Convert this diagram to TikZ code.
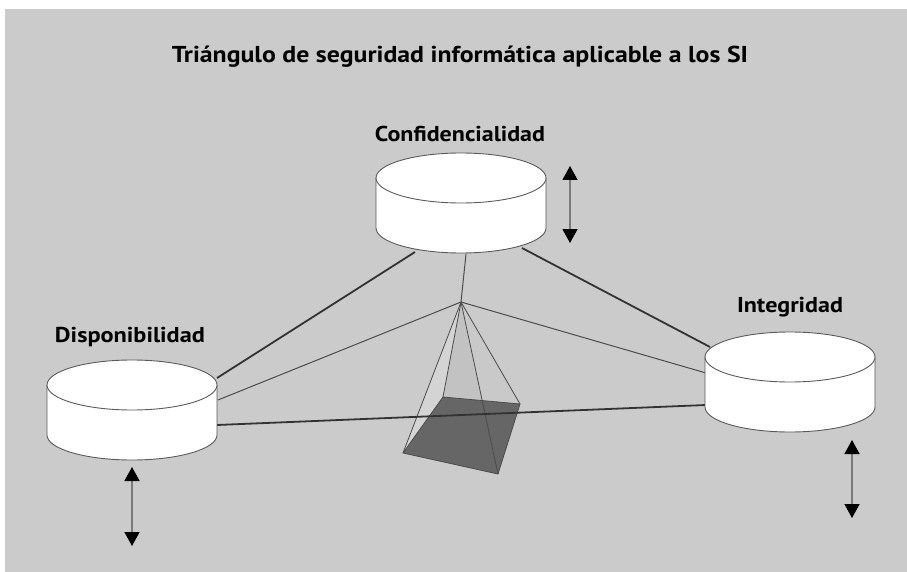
\documentclass[tikz,border=0pt]{standalone}
\usepackage{fontspec}
\usepackage{graphicx}
\setmainfont{PT Sans}
\usetikzlibrary{arrows.meta,calc}
\definecolor{panel}{HTML}{CBCBCB}
\definecolor{rim}{HTML}{5A5A5A}
\definecolor{shaft}{HTML}{7A7A7A}
\tikzset{
  drum/.style={draw=rim, line width=0.9, fill=white},
  bigside/.style={draw=black!80, line width=1.8},
  thinray/.style={draw=black!70, line width=1.0},
  pyredge/.style={draw=black!70, line width=0.8, line join=round},
  label/.style={font=\fontsize{21.5}{24}\selectfont\bfseries, inner sep=0},
  headline/.style={font=\fontsize{23}{26}\selectfont\bfseries, inner sep=0},
  updown/.style={draw=shaft, line width=1.3,
    {Triangle[width=15,length=14,color=black]}-{Triangle[width=15,length=14,color=black]}},
}
% text stretched to a given width, height kept
\newcommand\fitw[2]{\resizebox{#1pt}{\height}{#2}}
% drum: centre x, top-ellipse centre y, node name
\newcommand\drawdrum[3]{%
  \fill[white] (#1-85,#2) rectangle (#1+85,#2+50);
  \fill[white] (#1,#2+50) ellipse[x radius=85,y radius=25];
  \draw[draw=rim, line width=0.9] (#1-85,#2) -- (#1-85,#2+50)
     arc[start angle=180,end angle=0,x radius=85,y radius=25] -- (#1+85,#2);
  \draw[drum] (#1,#2) ellipse[x radius=85,y radius=25];
  \node[minimum width=170, minimum height=100, inner sep=0] (#3) at (#1,#2+25) {};
}
\begin{document}
\begin{tikzpicture}[x=1pt,y=-1pt]
\useasboundingbox (0,0) rectangle (907,572);
\fill[panel] (5,9) rectangle (907,572);

\node[headline] (title) at (460,57) {\fitw{576}{Triángulo de seguridad informática aplicable a los SI}};

% attachment points on the drums
\coordinate (cL) at (415,252);
\coordinate (cR) at (522,248);
\coordinate (cM) at (466,254);
\coordinate (dT) at (217,378);
\coordinate (dM) at (218,400);
\coordinate (dB) at (217,425);
\coordinate (iT) at (710,347);
\coordinate (iM) at (706,373);
\coordinate (iB) at (706,405);
\coordinate (apex) at (461,302);

% pyramid corners
\coordinate (bl) at (443,397);
\coordinate (br) at (520,404);
\coordinate (fr) at (498,474);
\coordinate (fl) at (403,453);

% rays from the apex
\draw[thinray] (apex) -- (cM);
\draw[thinray] (apex) -- (dM);
\draw[thinray] (apex) -- (iM);

% pyramid
\fill[black!17] (apex) -- (fl) -- (bl) -- cycle;
\fill[black!24] (apex) -- (bl) -- (br) -- cycle;
\fill[black!21] (apex) -- (br) -- (fr) -- cycle;
\fill[black!60] (bl) -- (br) -- (fr) -- (fl) -- cycle;
\draw[pyredge] (bl) -- (br) -- (fr) -- (fl) -- cycle;
\draw[pyredge] (apex) -- (fl);
\draw[pyredge] (apex) -- (bl);
\draw[pyredge] (apex) -- (br);
\draw[pyredge] (apex) -- (fr);

% sides of the triangle
\draw[bigside] (cL) -- (dT);
\draw[bigside] (cR) -- (iT);
\draw[bigside] (dB) -- (iB);

% drums
\drawdrum{461}{178}{conf}
\drawdrum{132}{385}{disp}
\drawdrum{790}{357}{inte}

\node[label] (conflab) at (460,134) {\fitw{170}{Confidencialidad}};
\node[label] (displab) at (130,337) {\fitw{150}{Disponibilidad}};
\node[label] (intelab) at (790,307) {\fitw{106}{Integridad}};

% arrows
\coordinate (a1t) at (570,166);
\coordinate (a1b) at (570,243);
\coordinate (a2t) at (132,467);
\coordinate (a2b) at (132,546);
\coordinate (a3t) at (852,440);
\coordinate (a3b) at (852,518);
\draw[updown] (a1t) -- (a1b);
\draw[updown] (a2t) -- (a2b);
\draw[updown] (a3t) -- (a3b);
\end{tikzpicture}
\end{document}
